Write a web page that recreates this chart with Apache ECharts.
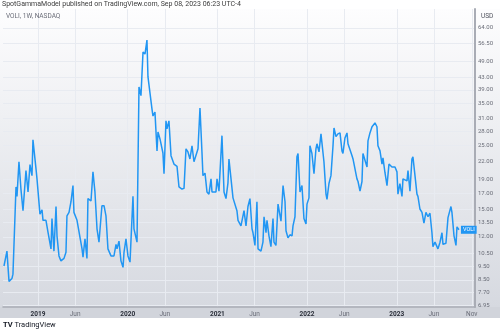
<!DOCTYPE html>
<html>
<head>
<meta charset="utf-8">
<script src="https://cdn.jsdelivr.net/npm/echarts@6/dist/echarts.min.js"></script>
<style>
  html, body { margin: 0; padding: 0; background: #fff; }
  #chart { width: 500px; height: 333px; }
</style>
</head>
<body>
<div id="chart"></div>
<script>
// weekly closes of VOLI, x as decimal years
const weeks = [
  2018.621, 2018.654, 2018.677, 2018.710, 2018.721, 2018.755, 2018.766, 2018.788, 2018.810, 2018.833,
  2018.866, 2018.889, 2018.911, 2018.933, 2018.944, 2018.955, 2018.978, 2018.989, 2019.022, 2019.045,
  2019.056, 2019.089, 2019.111, 2019.145, 2019.156, 2019.178, 2019.201, 2019.212, 2019.234, 2019.256,
  2019.290, 2019.312, 2019.323, 2019.346, 2019.368, 2019.390, 2019.401, 2019.435, 2019.457, 2019.491,
  2019.502, 2019.524, 2019.546, 2019.557, 2019.591, 2019.613, 2019.635, 2019.658, 2019.680, 2019.713,
  2019.736, 2019.758, 2019.780, 2019.814, 2019.847, 2019.870, 2019.881, 2019.903, 2019.925, 2019.948,
  2019.959, 2019.981, 2020.003, 2020.026, 2020.059, 2020.070, 2020.104, 2020.126, 2020.148, 2020.171,
  2020.193, 2020.215, 2020.226, 2020.271, 2020.282, 2020.304, 2020.327, 2020.338, 2020.360, 2020.393,
  2020.405, 2020.427, 2020.438, 2020.460, 2020.483, 2020.505, 2020.516, 2020.550, 2020.572, 2020.605,
  2020.628, 2020.650, 2020.672, 2020.694, 2020.717, 2020.739, 2020.773, 2020.784, 2020.806, 2020.828,
  2020.839, 2020.862, 2020.884, 2020.906, 2020.929, 2020.940, 2020.962, 2020.984, 2020.996, 2021.018,
  2021.051, 2021.074, 2021.096, 2021.118, 2021.129, 2021.152, 2021.174, 2021.196, 2021.218, 2021.230,
  2021.263, 2021.274, 2021.297, 2021.319, 2021.341, 2021.363, 2021.386, 2021.397, 2021.419, 2021.441,
  2021.453, 2021.486, 2021.508, 2021.520, 2021.542, 2021.553, 2021.575, 2021.597, 2021.620, 2021.631,
  2021.653, 2021.676, 2021.687, 2021.709, 2021.732, 2021.754, 2021.765, 2021.787, 2021.809, 2021.832,
  2021.843, 2021.865, 2021.887, 2021.899, 2021.921, 2021.943, 2021.965, 2021.988, 2021.999, 2022.021,
  2022.032, 2022.054, 2022.077, 2022.099, 2022.110, 2022.133, 2022.155, 2022.166, 2022.188, 2022.211,
  2022.222, 2022.244, 2022.266, 2022.289, 2022.300, 2022.322, 2022.344, 2022.367, 2022.389, 2022.400,
  2022.422, 2022.445, 2022.456, 2022.478, 2022.501, 2022.512, 2022.534, 2022.556, 2022.568, 2022.590,
  2022.612, 2022.623, 2022.645, 2022.668, 2022.679, 2022.701, 2022.724, 2022.735, 2022.757, 2022.779,
  2022.790, 2022.813, 2022.835, 2022.846, 2022.868, 2022.891, 2022.913, 2022.946, 2022.957, 2022.980,
  2023.002, 2023.013, 2023.035, 2023.058, 2023.069, 2023.091, 2023.114, 2023.125, 2023.147, 2023.169,
  2023.180, 2023.203, 2023.225, 2023.236, 2023.258, 2023.281, 2023.303, 2023.325, 2023.348, 2023.370,
  2023.392, 2023.403, 2023.426, 2023.448, 2023.459, 2023.482, 2023.504, 2023.515, 2023.548, 2023.571,
  2023.604, 2023.615, 2023.638, 2023.660, 2023.671, 2023.693
];
const voli = [
  9.5, 10.7, 8.4, 8.6, 8.9, 17.9, 16.6, 21.9, 17.6, 14.8,
  20.4, 17.2, 21.4, 19.6, 26.1, 25.9, 20.7, 19.1, 14.4, 14.9,
  13.7, 13.7, 12.5, 10.9, 13.9, 10.7, 15.3, 12.1, 10.3, 9.9,
  10.1, 10.6, 14.2, 14.6, 15.9, 18.1, 14.6, 13.7, 13.6, 10.9,
  10.2, 11.8, 10.1, 16.3, 16.0, 20.2, 17.2, 12.8, 11.5, 15.4,
  15.4, 14.2, 10.9, 10.3, 10.3, 11.3, 10.9, 11.6, 9.9, 9.4,
  10.6, 11.8, 10.3, 9.8, 16.6, 12.8, 11.5, 39.9, 37.2, 52.8,
  51.9, 58.1, 43.3, 33.4, 31.6, 32.6, 23.9, 27.8, 26.3, 23.5,
  19.9, 30.4, 28.5, 30.4, 23.0, 23.0, 21.5, 21.1, 17.9, 17.6,
  17.7, 24.3, 23.7, 22.4, 24.9, 21.9, 23.7, 24.3, 33.7, 23.7,
  19.6, 20.0, 17.2, 16.9, 19.1, 17.2, 17.3, 17.2, 19.1, 17.3,
  27.0, 17.2, 16.3, 18.5, 22.4, 19.1, 16.4, 16.4, 14.8, 13.7,
  13.1, 13.0, 14.8, 13.1, 15.3, 16.3, 12.8, 12.4, 11.2, 15.9,
  10.9, 10.7, 11.5, 14.1, 12.4, 13.7, 12.1, 11.1, 13.9, 11.5,
  11.2, 15.6, 15.6, 13.6, 18.1, 15.9, 12.6, 11.9, 12.2, 12.1,
  13.1, 14.1, 22.8, 23.4, 17.2, 18.1, 13.9, 13.3, 15.6, 16.4,
  24.9, 23.4, 19.9, 24.3, 25.3, 23.7, 27.4, 27.4, 21.9, 16.9,
  16.2, 18.4, 19.6, 24.9, 28.7, 26.8, 27.4, 27.6, 23.9, 23.4,
  26.5, 27.6, 25.3, 25.3, 23.0, 22.4, 20.7, 19.1, 18.7, 17.3,
  18.7, 23.4, 23.7, 21.0, 25.9, 27.6, 29.0, 29.0, 29.9, 29.0,
  24.9, 23.9, 21.5, 22.6, 20.1, 18.1, 21.5, 21.0, 20.7, 21.0,
  20.2, 16.9, 18.4, 16.6, 19.1, 19.4, 18.8, 20.4, 17.3, 22.4,
  22.8, 19.6, 16.9, 16.6, 15.0, 14.6, 13.4, 14.6, 14.1, 14.5,
  12.4, 11.1, 11.5, 11.4, 10.9, 11.5, 12.4, 11.3, 11.4, 14.0,
  15.3, 14.6, 12.1, 11.2, 13.0, 12.7
];
// axis ticks
const xTicks = [2019, 2019.414, 2020, 2020.414, 2021, 2021.414, 2022, 2022.414, 2023, 2023.414, 2023.836];
const xTickLabels = ['2019', 'Jun', '2020', 'Jun', '2021', 'Jun', '2022', 'Jun', '2023', 'Jun', 'Nov'];
const yTicks = [6.95, 7.7, 8.5, 9.5, 10.5, 12, 13.5, 15, 17, 19, 22, 25, 28, 31, 35, 39, 43, 49, 56.5, 64];

const chart = echarts.init(document.getElementById('chart'));
const font = 'Roboto, "DejaVu Sans", sans-serif';

chart.setOption({
  animation: false,
  textStyle: { fontFamily: font },
  title: [
    {
      text: 'SpotGammaModel published on TradingView.com, Sep 08, 2023 06:23 UTC-4',
      left: 2, top: 1, padding: 0,
      textStyle: { fontSize: 7, fontWeight: 'normal', color: '#3c3c3c', fontFamily: font }
    },
    {
      text: 'VOLI, 1W, NASDAQ',
      left: 6, top: 13, padding: 0,
      textStyle: { fontSize: 6.5, fontWeight: 'normal', color: '#6a6d78', fontFamily: font }
    },
    {
      text: 'USD',
      left: 481, top: 13, padding: 0,
      textStyle: { fontSize: 6.5, fontWeight: 'normal', color: '#50535e', fontFamily: font }
    },
    {
      text: '{logo|TV} TradingView',
      left: 3, top: 321, padding: 0,
      textStyle: {
        fontSize: 7.5, fontWeight: 'normal', color: '#131722', fontFamily: font,
        rich: { logo: { fontSize: 7.5, fontWeight: 'bold', color: '#131722' } }
      }
    }
  ],
  graphic: [
    {
      type: 'rect', z: -10, silent: true,
      shape: { x: 0, y: 9, width: 500, height: 298 },
      style: {
        fill: new echarts.graphic.LinearGradient(0, 0, 0, 1, [
          { offset: 0, color: '#fdfdfe' },
          { offset: 1, color: '#d6d9e0' }
        ])
      }
    },
    {
      type: 'rect', z: -10, silent: true,
      shape: { x: 0, y: 307, width: 500, height: 11 },
      style: { fill: '#d1d4db' }
    }
  ],
  grid: { left: 3, right: 25, top: 9, bottom: 26 },
  xAxis: {
    type: 'value',
    min: 2018.61,
    max: 2023.872,
    axisLine: { show: true, lineStyle: { color: '#a9acb5', width: 1.5 } },
    axisTick: { show: false, customValues: xTicks },
    axisLabel: {
      customValues: xTicks,
      margin: 4,
      fontSize: 6.5,
      color: '#6a6d78',
      formatter: (v) => {
        const i = xTicks.findIndex((t) => Math.abs(t - v) < 0.001);
        const s = i >= 0 ? xTickLabels[i] : '';
        return /^\d+$/.test(s) ? '{yr|' + s + '}' : s;
      },
      rich: { yr: { fontSize: 6.5, fontWeight: 'bold', color: '#2a2e39' } }
    },
    splitLine: { show: true, lineStyle: { color: '#e8ebf1', width: 1 } }
  },
  yAxis: {
    type: 'log',
    position: 'right',
    min: 6.84,
    max: 74.5,
    axisLine: { show: true, lineStyle: { color: '#a9acb5', width: 2 } },
    axisTick: { show: false, customValues: yTicks },
    axisLabel: {
      customValues: yTicks,
      margin: 3,
      fontSize: 6,
      color: '#6a6d78',
      formatter: (v) => Number(v).toFixed(2)
    },
    splitLine: { show: true, lineStyle: { color: '#e8ebf1', width: 1 } }
  },
  series: [
    {
      type: 'line',
      data: weeks.map((t, i) => [t, voli[i]]),
      showSymbol: false,
      lineStyle: { color: '#2196f3', width: 1.5 },
      itemStyle: { color: '#2196f3' },
      endLabel: {
        show: true,
        formatter: 'VOLI',
        distance: 2,
        fontSize: 5.5,
        color: '#fff',
        backgroundColor: '#2196f3',
        padding: [1, 2, 1, 2]
      },
      z: 3
    }
  ]
});
</script>
</body>
</html>
